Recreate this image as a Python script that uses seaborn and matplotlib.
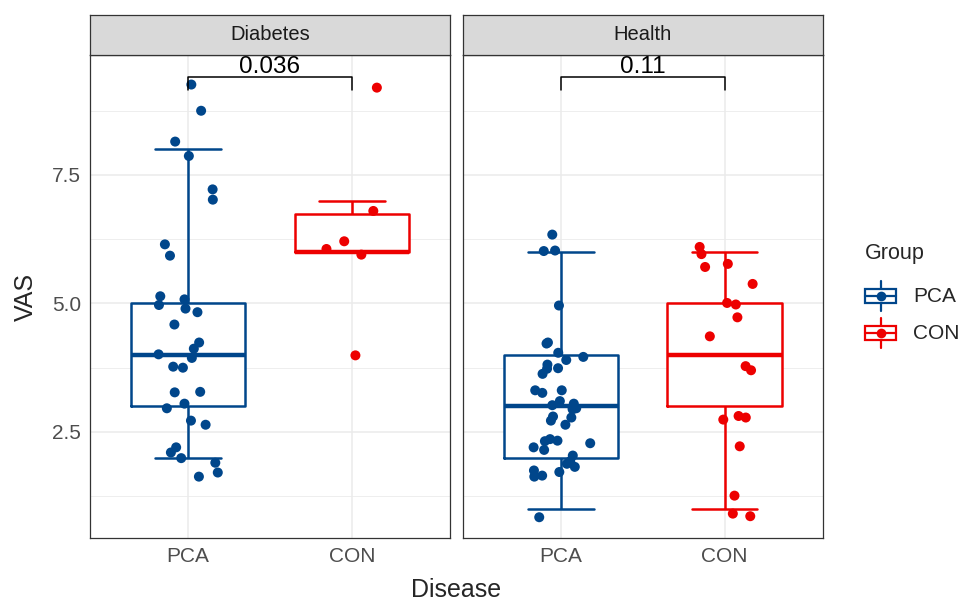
import numpy as np
import pandas as pd
import matplotlib
matplotlib.use("Agg")
import matplotlib.pyplot as plt
from matplotlib.ticker import MultipleLocator, AutoMinorLocator
from matplotlib.patches import Rectangle
import seaborn as sns

# Facets, groups and colours
diseases = ["Diabetes", "Health"]
groups = ["PCA", "CON"]
palette = {"PCA": "#00468B", "CON": "#ED0000"}
p_values = ["0.036", "0.11"]

# VAS scores summarised by the boxes
diab_pca_scores = [9, 9, 8, 8, 7, 7, 6, 5, 5, 5, 5, 5, 5, 5, 4, 4, 4, 4, 4, 4,
                   3, 3, 3, 3, 3, 3, 2, 2, 2, 2, 2, 2]
diab_con_scores = [9, 7, 6, 6, 6, 4]
health_pca_scores = [6, 6, 6, 5, 4, 4, 4, 4, 4, 4, 4, 4, 4,
                     3, 3, 3, 3, 3, 3, 3, 3, 3, 3, 3, 3, 3,
                     2, 2, 2, 2, 2, 2, 2, 2, 2, 2, 2, 2, 2, 2, 1]
health_con_scores = [6, 6, 6, 6, 5, 5, 5, 5, 4, 4, 4, 3, 3, 3, 2, 1, 1, 1]

# VAS values of the jittered points as they appear
diab_pca_points = [9.26, 8.75, 8.15, 7.87, 7.22, 7.02, 6.15, 5.93, 5.14, 5.08,
                   4.97, 4.90, 4.83, 4.59, 4.24, 4.12, 4.01, 3.94, 3.77, 3.75,
                   3.27, 3.28, 3.05, 2.96, 2.72, 2.64, 2.20, 2.10, 1.99, 1.90,
                   1.71, 1.63]
diab_con_points = [9.20, 6.80, 6.21, 6.06, 5.95, 3.99]
health_pca_points = [6.34, 6.02, 6.03, 4.96, 4.22, 4.24, 4.04, 3.96, 3.90, 3.81,
                     3.73, 3.74, 3.63, 3.26, 3.31, 3.31, 3.10, 3.02, 3.05, 2.96,
                     2.96, 2.94, 2.80, 2.78, 2.72, 2.64, 2.36, 2.33, 2.20, 2.32,
                     2.28, 2.15, 2.04, 1.93, 1.82, 1.72, 1.88, 1.75, 1.63, 1.65,
                     0.84]
health_con_points = [6.10, 5.96, 5.77, 5.71, 5.38, 4.98, 5.01, 4.73, 4.36, 3.70,
                     3.78, 2.81, 2.74, 2.78, 2.22, 1.26, 0.86, 0.91]


def make_frame(values):
    rows = []
    for (disease, group), vals in values.items():
        for v in vals:
            rows.append({"Disease": disease, "Group": group, "VAS": v})
    return pd.DataFrame(rows)


box_df = make_frame({
    ("Diabetes", "PCA"): diab_pca_scores,
    ("Diabetes", "CON"): diab_con_scores,
    ("Health", "PCA"): health_pca_scores,
    ("Health", "CON"): health_con_scores,
})
pts_df = make_frame({
    ("Diabetes", "PCA"): diab_pca_points,
    ("Diabetes", "CON"): diab_con_points,
    ("Health", "PCA"): health_pca_points,
    ("Health", "CON"): health_con_points,
})

sns.set_style("white")
plt.rcParams["font.family"] = ["Liberation Sans", "DejaVu Sans"]

W, H = 962, 603
fig = plt.figure(figsize=(W / 100, H / 100), dpi=100)


def px_axes(x0, y0, x1, y1):
    # axes placed in pixel coordinates measured from the top-left corner
    return fig.add_axes([x0 / W, 1 - y1 / H, (x1 - x0) / W, (y1 - y0) / H])


panels = [(90, 55, 450, 538.3), (462.7, 55, 822.7, 538.3)]
np.random.seed(3)
bracket_y = max(pts_df["VAS"]) + 0.14

for i, disease in enumerate(diseases):
    x0, y0, x1, y1 = panels[i]
    ax = px_axes(x0, y0, x1, y1)
    bsub = box_df[box_df["Disease"] == disease]
    psub = pts_df[pts_df["Disease"] == disease]

    # white box bodies, then coloured outlines
    sns.boxplot(data=bsub, x="Group", y="VAS", order=groups, color="white",
                fill=True, width=0.7, showfliers=False, linewidth=0,
                showcaps=False, ax=ax)
    sns.boxplot(data=bsub, x="Group", y="VAS", hue="Group", order=groups,
                hue_order=groups, palette=palette, fill=False, width=0.7,
                showfliers=False, linewidth=1.8, capwidths=0.4,
                medianprops={"linewidth": 3.2}, legend=False, ax=ax)
    sns.stripplot(data=psub, x="Group", y="VAS", hue="Group", order=groups,
                  hue_order=groups, palette=palette, jitter=0.19, size=7.2,
                  linewidth=0, legend=False, zorder=5, ax=ax)

    ax.set_xlim(-0.6, 1.6)
    ax.set_ylim(0.43, 9.835)
    ax.yaxis.set_major_locator(MultipleLocator(2.5))
    ax.yaxis.set_minor_locator(AutoMinorLocator(2))
    ax.set_axisbelow(True)
    ax.grid(which="major", color="#EBEBEB", linewidth=1.1)
    ax.grid(which="minor", axis="y", color="#EBEBEB", linewidth=0.6)
    ax.tick_params(which="minor", length=0)
    ax.tick_params(which="major", length=3.5, width=0.9, color="#333333",
                   labelcolor="#4D4D4D", labelsize=15, pad=3)
    for sp in ax.spines.values():
        sp.set_color("#333333")
        sp.set_linewidth(0.9)
    ax.set_xlabel("")
    ax.set_ylabel("")
    if i > 0:
        ax.tick_params(axis="y", left=False, labelleft=False)

    # significance bracket
    ax.plot([0, 0, 1, 1], [bracket_y - 0.24, bracket_y, bracket_y, bracket_y - 0.24],
            color="black", linewidth=1.1, zorder=6)
    ax.text(0.5, bracket_y + 0.08, p_values[i], ha="center", va="baseline",
            fontsize=17.5, color="black", clip_on=True, zorder=6)

    # facet strip
    sax = px_axes(x0, 15, x1, 55)
    sax.set_facecolor("#D9D9D9")
    sax.set_xticks([])
    sax.set_yticks([])
    for sp in sax.spines.values():
        sp.set_color("#333333")
        sp.set_linewidth(0.9)
    sax.text(0.5, 0.5, disease, ha="center", va="center", fontsize=14.5,
             color="#1A1A1A", transform=sax.transAxes)

fig.text(26 / W, 1 - 296.7 / H, "VAS", rotation=90, ha="center", va="center",
         fontsize=18)
fig.text(456 / W, 1 - 597 / H, "Disease", ha="center", va="baseline",
         fontsize=18)

# legend drawn in pixel coordinates
lax = px_axes(850, 240, 962, 360)
lax.set_xlim(850, 962)
lax.set_ylim(360, 240)
lax.axis("off")
lax.text(865, 253, "Group", ha="left", va="center", fontsize=15.5)
for g, cy in zip(groups, [296.3, 333]):
    c = palette[g]
    lax.plot([880.5, 880.5], [cy - 15, cy + 15], color=c, linewidth=1.6, zorder=1)
    lax.add_patch(Rectangle((865, cy - 7), 31, 14, facecolor="white",
                            edgecolor=c, linewidth=1.6, zorder=2))
    lax.plot([865, 896], [cy, cy], color=c, linewidth=1.6, zorder=3)
    lax.plot([880.5], [cy], marker="o", markersize=7, color=c,
             markeredgewidth=0, zorder=4)
    lax.text(913, cy, g, ha="left", va="center", fontsize=15)

fig.savefig("out.png", dpi=100)
